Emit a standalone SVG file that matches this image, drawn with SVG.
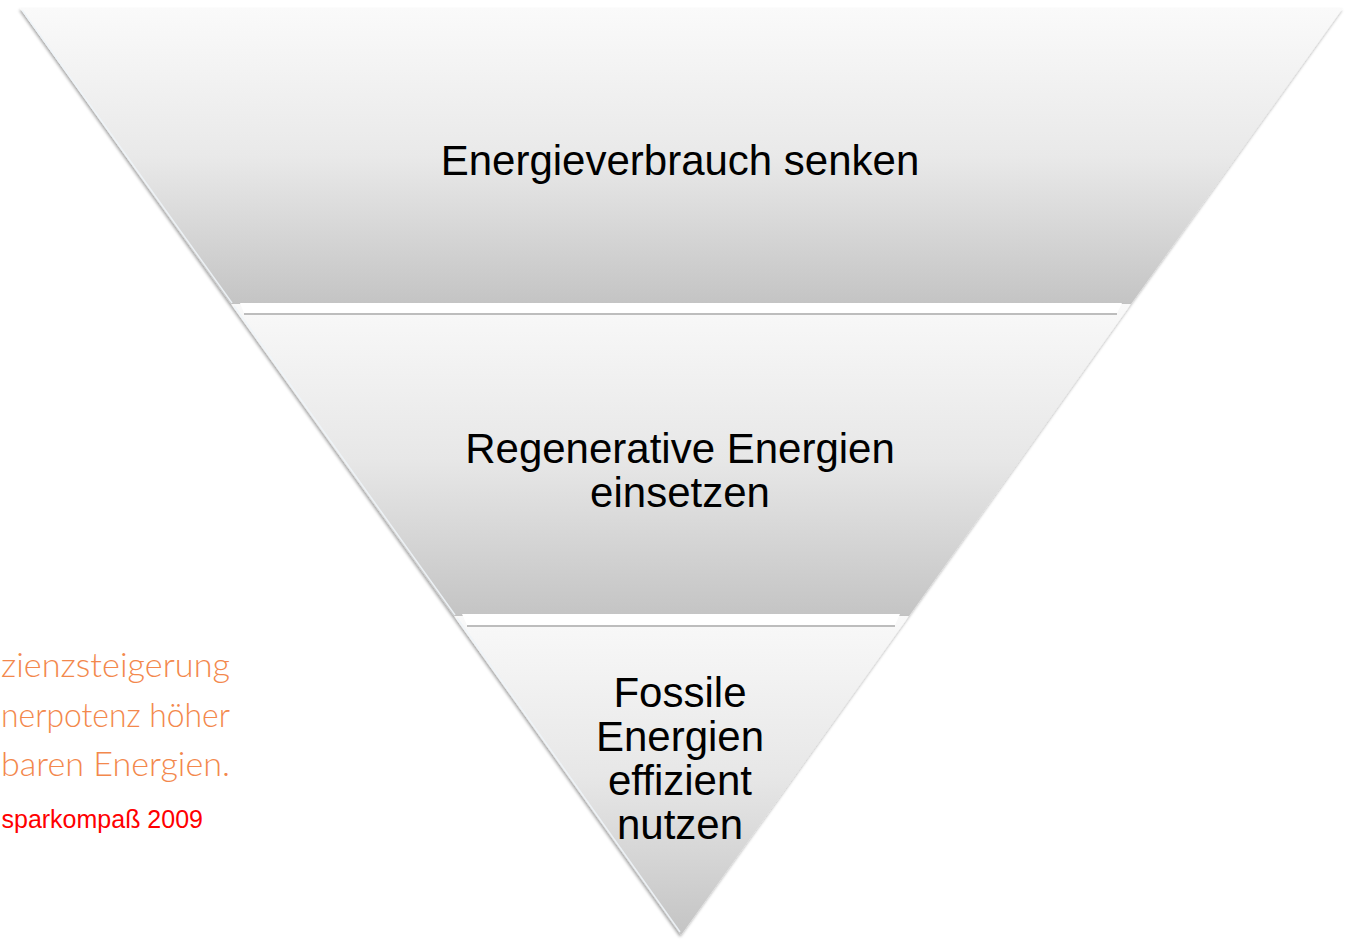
<svg xmlns="http://www.w3.org/2000/svg" width="1347" height="940" viewBox="0 0 1347 940">
  <defs>
    <linearGradient id="g1" x1="0" y1="0" x2="0" y2="1">
      <stop offset="0" stop-color="#fafafa"/>
      <stop offset="0.5" stop-color="#e9e9e9"/>
      <stop offset="1" stop-color="#c4c4c4"/>
    </linearGradient>
    <linearGradient id="g2" x1="0" y1="0" x2="0" y2="1">
      <stop offset="0" stop-color="#f9f9f9"/>
      <stop offset="0.5" stop-color="#e7e7e7"/>
      <stop offset="1" stop-color="#c4c4c4"/>
    </linearGradient>
    <filter id="sh" x="-5%" y="-5%" width="110%" height="115%">
      <feDropShadow dx="-1" dy="2" stdDeviation="1.6" flood-color="#000" flood-opacity="0.35"/>
    </filter>
    <style>
      .band { filter: url(#sh); }
      .lbl { font-family: "Liberation Sans", Arial, sans-serif; font-size: 42px; fill: #000; text-anchor: middle; }
      .strip { fill: #ffffff; }
      .sline { stroke: #bdbdbd; stroke-width: 2; }
      .edge { stroke: #eef4f8; stroke-width: 1.5; fill: none; opacity: 0.9; }
      .orange { font-family: "Lato", "Liberation Sans", sans-serif; font-weight: 300; font-size: 34px; fill: #f3884c; }
      .red { font-family: "Liberation Sans", Arial, sans-serif; font-size: 25px; fill: #ff0000; text-anchor: end; }
    </style>
  </defs>
  <rect width="1347" height="940" fill="#ffffff"/>

  <g id="caption">
    <text class="orange" x="1" y="677" textLength="229" lengthAdjust="spacingAndGlyphs">zienzsteigerung</text>
    <text class="orange" x="1" y="727" textLength="229" lengthAdjust="spacingAndGlyphs">nerpotenz höher</text>
    <text class="orange" x="1" y="776" textLength="229" lengthAdjust="spacingAndGlyphs">baren Energien.</text>
    <text class="red" x="203" y="828">sparkompaß 2009</text>
  </g>

  <g id="band1">
    <polygon class="band" points="20,8 1343,8 1131,304 231,304" fill="url(#g1)"/>
    <line class="edge" x1="22" y1="10" x2="232" y2="303"/>
    <text class="lbl" x="680" y="175">Energieverbrauch senken</text>
  </g>

  <g id="band2">
    <polygon class="band" points="231,304 1131,304 909,616 454,616" fill="url(#g2)"/>
    <polygon class="strip" points="240,303 1122,303 1117,313 244,313"/>
    <line class="sline" x1="244" y1="314" x2="1117" y2="314"/>
    <line class="edge" x1="234" y1="306" x2="455" y2="615"/>
    <text class="lbl" x="680" y="463">Regenerative Energien</text>
    <text class="lbl" x="680" y="507">einsetzen</text>
  </g>

  <g id="band3">
    <polygon class="band" points="454,616 909,616 681,935" fill="url(#g2)"/>
    <polygon class="strip" points="462,614 900,614 895,625 467,625"/>
    <line class="sline" x1="467" y1="626" x2="895" y2="626"/>
    <line class="edge" x1="457" y1="618" x2="680" y2="932"/>
    <text class="lbl" x="680" y="707">Fossile</text>
    <text class="lbl" x="680" y="751">Energien</text>
    <text class="lbl" x="680" y="795">effizient</text>
    <text class="lbl" x="680" y="839">nutzen</text>
  </g>

  <g id="connectors"/>
</svg>
